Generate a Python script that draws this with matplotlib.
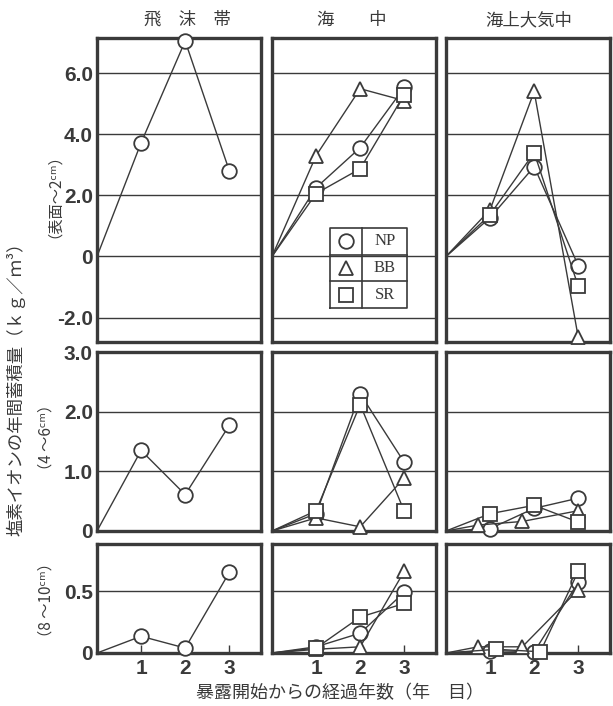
import numpy as np
import matplotlib.pyplot as plt

plt.rcParams['font.family'] = ['Noto Sans CJK JP', 'DejaVu Sans']

years = [0, 1, 2, 3]
columns = ["飛　沫　帯", "海　　中", "海上大気中"]
depths = ["（表面～2ᶜᵐ）", "（4 ～6ᶜᵐ）", "（8 ～10ᶜᵐ）"]

# row 1: surface - 2 cm
splash_top_np = [0, 3.72, 7.05, 2.81]
sea_top_np = [0, 2.25, 3.56, 5.53]
sea_top_bb = [0, 3.30, 5.49, 5.10]
sea_top_sr = [0, 2.06, 2.87, 5.30]
air_top_np = [0, 1.27, 2.94, -0.30]
air_top_bb = [0, 1.53, 5.40, -2.65]
air_top_sr = [0, 1.37, 3.40, -0.98]

# row 2: 4 - 6 cm
splash_mid_np = [0, 1.35, 0.61, 1.77]
sea_mid_np = [0, 0.29, 2.30, 1.15]
sea_mid_bb = [0, 0.22, 0.07, 0.89]
sea_mid_sr = [0, 0.34, 2.12, 0.33]
air_mid_np = [0, 0.04, 0.38, 0.55]
air_mid_bb = [0, 0.10, 0.16, 0.34]
air_mid_sr = [0, 0.29, 0.43, 0.15]

# row 3: 8 - 10 cm
splash_bot_np = [0, 0.135, 0.04, 0.65]
sea_bot_np = [0, 0.05, 0.16, 0.49]
sea_bot_bb = [0, 0.03, 0.05, 0.66]
sea_bot_sr = [0, 0.04, 0.29, 0.40]
air_bot_np = [0, 0.02, 0.01, 0.57]
air_bot_bb = [0, 0.05, 0.05, 0.51]
air_bot_sr = [0, 0.03, 0.01, 0.66]

row_ticks = [[-2, 0, 2, 4, 6], [0, 1, 2, 3], [0, 0.5]]
row_ticklabels = [["-2.0", "0", "2.0", "4.0", "6.0"], ["0", "1.0", "2.0", "3.0"], ["0", "0.5"]]
row_ylim = [(-2.8, 7.15), (0, 2.93), (0, 0.88)]

ink = '#3a3a3a'
num_font = ['Liberation Sans Narrow', 'Liberation Sans']
styles = {'NP': dict(marker='o', ms=10.5), 'BB': dict(marker='^', ms=10.5), 'SR': dict(marker='s', ms=10)}

panels = [
    [{'NP': splash_top_np}, {'NP': sea_top_np, 'BB': sea_top_bb, 'SR': sea_top_sr},
     {'NP': air_top_np, 'BB': air_top_bb, 'SR': air_top_sr}],
    [{'NP': splash_mid_np}, {'NP': sea_mid_np, 'BB': sea_mid_bb, 'SR': sea_mid_sr},
     {'NP': air_mid_np, 'BB': air_mid_bb, 'SR': air_mid_sr}],
    [{'NP': splash_bot_np}, {'NP': sea_bot_np, 'BB': sea_bot_bb, 'SR': sea_bot_sr},
     {'NP': air_bot_np, 'BB': air_bot_bb, 'SR': air_bot_sr}],
]

W, H = 613, 706
fig = plt.figure(figsize=(W / 100, H / 100), dpi=100)
col_left = [97, 272, 446]
col_w = 164
row_top = [38, 352, 544]
row_h = [304, 179, 109]

for r in range(3):
    for c in range(3):
        ax = fig.add_axes([col_left[c] / W, 1 - (row_top[r] + row_h[r]) / H, col_w / W, row_h[r] / H])
        ax.set_xlim(0, 3.72)
        ax.set_ylim(*row_ylim[r])
        for t in row_ticks[r]:
            ax.axhline(t, color=ink, lw=1.0, zorder=1)
        for name, vals in panels[r][c].items():
            xs = np.array(years, dtype=float)
            # small horizontal shift where markers pile up near zero
            if c == 2 and r >= 1:
                shift = {'NP': 0, 'BB': -0.27, 'SR': 0.14 if r == 2 else 0}[name]
                xs[1:3] += shift
            ax.plot(xs, vals, color=ink, lw=1.0, mfc='white', mec=ink, mew=1.3,
                    markevery=[1, 2, 3], zorder=3, clip_on=False, **styles[name])
        ax.set_yticks(row_ticks[r])
        if c == 0:
            ax.set_yticklabels(row_ticklabels[r], fontfamily=num_font,
                               fontweight='bold', fontsize=15, color=ink)
        else:
            ax.set_yticklabels([])
        ax.tick_params(axis='y', length=0, pad=3)
        ax.set_xticks([1, 2, 3])
        if r == 2:
            ax.set_xticklabels(['1', '2', '3'], fontfamily='Liberation Sans',
                               fontweight='bold', fontsize=15, color=ink)
            ax.tick_params(axis='x', direction='in', length=6, width=1.0, color=ink, pad=4)
        else:
            ax.set_xticklabels([])
            ax.tick_params(axis='x', length=0)
        for s in ax.spines.values():
            s.set_linewidth(2.4)
            s.set_color(ink)
        if r == 0 and c == 1:
            # legend table
            x0, xm, x1 = 0.355, 0.55, 0.825
            yb, ys = 0.112, 0.0875
            ax.plot([x0, x1, x1, x0, x0], [yb, yb, yb + 3 * ys, yb + 3 * ys, yb],
                    color=ink, lw=1.2, transform=ax.transAxes, zorder=4)
            ax.plot([xm, xm], [yb, yb + 3 * ys], color=ink, lw=1.2, transform=ax.transAxes, zorder=4)
            for k in (1, 2):
                ax.plot([x0, x1], [yb + k * ys] * 2, color=ink, lw=1.2, transform=ax.transAxes, zorder=4)
            for i, name in enumerate(['NP', 'BB', 'SR']):
                yc = yb + (2.5 - i) * ys
                ax.plot([(x0 + xm) / 2], [yc], transform=ax.transAxes, ls='none', mfc='white',
                        mec=ink, mew=1.3, zorder=5, **styles[name])
                ax.text((xm + x1) / 2, yc, name, transform=ax.transAxes, ha='center', va='center',
                        fontfamily='Liberation Serif', fontsize=12, color=ink, zorder=5)

for txt, xc in zip(columns, [187, 352, 529]):
    fig.text(xc / W, 1 - 20 / H, txt, ha='center', va='center', fontsize=12.5, color=ink)
fig.text(16 / W, 1 - 385 / H, "塩素イオンの年間蓄積量（ｋｇ／ｍ³）", rotation=90,
         ha='center', va='center', fontsize=12.5, color=ink)
for txt, yc in zip(depths, [188, 437, 600]):
    fig.text(46 / W, 1 - yc / H, txt, rotation=90, ha='center', va='center', fontsize=11, color=ink)
fig.text(340 / W, 1 - 693 / H, "暴露開始からの経過年数（年　目）", ha='center', va='center',
         fontsize=13, color=ink)

fig.savefig('out.png', dpi=100, facecolor='white')
